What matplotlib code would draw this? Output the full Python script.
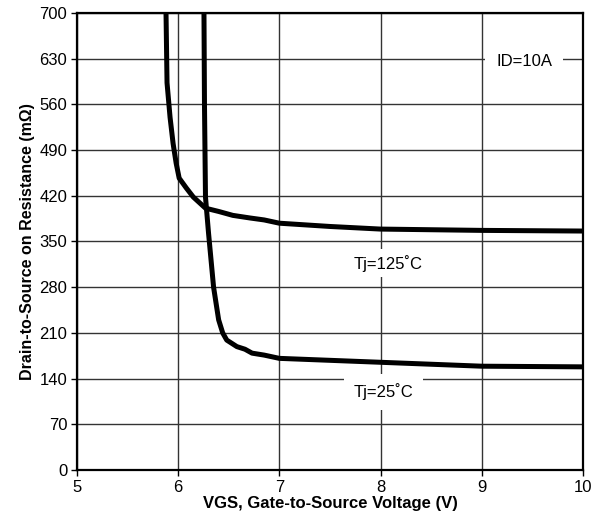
import matplotlib
matplotlib.use("Agg")
import matplotlib.pyplot as plt

plt.rcParams['font.family'] = ['Liberation Sans', 'DejaVu Sans']

# Tj = 125 C curve (VGS in V, RDS(on) in mOhm)
vgs_125 = [5.86, 5.88, 5.89, 5.92, 5.95, 5.98, 6.01, 6.08, 6.15, 6.27, 6.40, 6.54, 6.71, 6.85, 7.0, 7.5, 8.0, 9.0, 10.0]
rds_125 = [760, 700, 593, 540, 500, 470, 447, 432, 418, 401, 396, 390, 386, 383, 378, 373, 369, 367, 366]

# Tj = 25 C curve
vgs_25 = [6.25, 6.255, 6.26, 6.27, 6.30, 6.35, 6.40, 6.44, 6.48, 6.58, 6.66, 6.73, 6.85, 7.0, 8.0, 9.0, 10.0]
rds_25 = [760, 700, 560, 418, 363, 280, 230, 210, 199, 189, 185, 179, 176, 171, 165, 159, 158]

x_ticks = [5, 6, 7, 8, 9, 10]
y_ticks = [0, 70, 140, 210, 280, 350, 420, 490, 560, 630, 700]

fig = plt.figure(figsize=(6.06, 5.29), dpi=100)
ax = fig.add_axes([0.127, 0.1115, 0.835, 0.864])

ax.plot(vgs_125, rds_125, color='black', linewidth=3.6, solid_capstyle='butt', zorder=3)
ax.plot(vgs_25, rds_25, color='black', linewidth=3.6, solid_capstyle='butt', zorder=3)

ax.set_xlim(5, 10)
ax.set_ylim(0, 700)
ax.set_xticks(x_ticks)
ax.set_yticks(y_ticks)
ax.grid(True, color='#333333', linewidth=1.0)
ax.set_axisbelow(True)
for s in ax.spines.values():
    s.set_linewidth(1.6)
ax.tick_params(direction='out', length=4, width=1, labelsize=12, pad=3)

ax.set_xlabel("VGS, Gate-to-Source Voltage (V)", fontsize=12, fontweight='bold', labelpad=1)
ax.set_ylabel("Drain-to-Source on Resistance (m\u03a9)", fontsize=11.5, fontweight='bold', labelpad=3)

ax.text(8.07, 317, "Tj=125\u02daC", fontsize=12, ha='center', va='center',
        bbox=dict(facecolor='white', edgecolor='none', pad=4), zorder=4)
ax.text(8.03, 120, "Tj=25\u02daC", fontsize=12, ha='center', va='center',
        bbox=dict(facecolor='white', edgecolor='none', pad=7), zorder=4)
ax.text(9.42, 626, "ID=10A", fontsize=12, ha='center', va='center',
        bbox=dict(facecolor='white', edgecolor='none', pad=8), zorder=4)

fig.savefig("out.png", dpi=100)
